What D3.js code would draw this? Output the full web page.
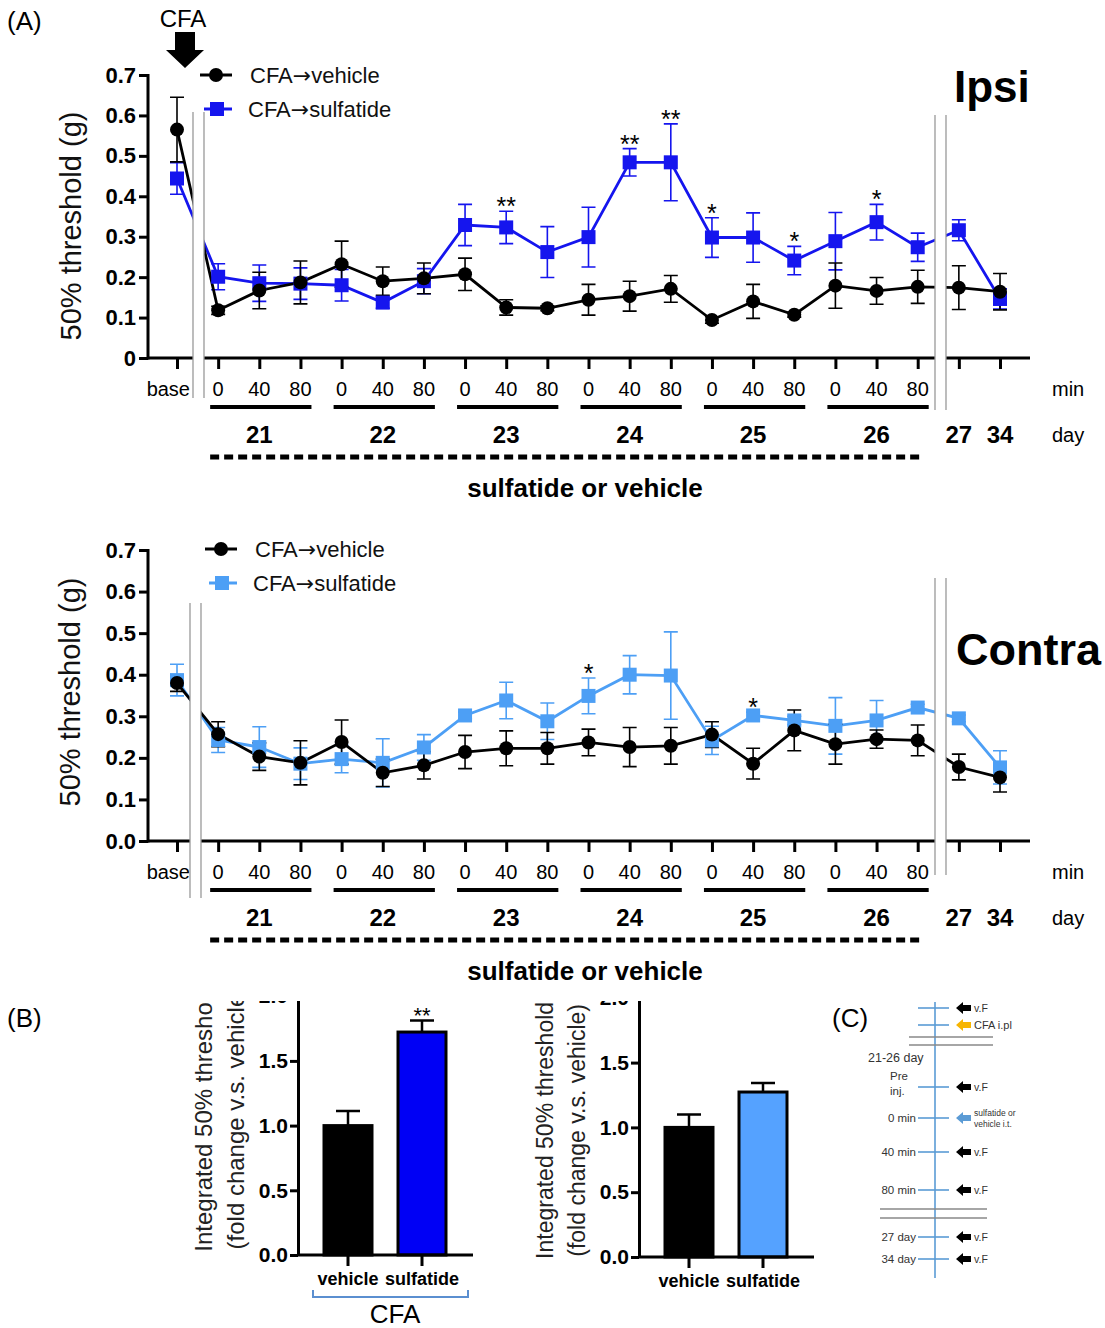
<!DOCTYPE html>
<meta charset="utf-8" />
<style>
  body { margin: 0; background: #fff; }
  svg { display: block; font-family: "Liberation Sans", Arial, sans-serif; }
</style>
<svg width="1105" height="1328"></svg>
<script src="https://d3js.org/d3.v7.min.js"></script>
<script>
  /* global d3 */

  // ---- data (A) : 50% threshold (g), mean and SEM, 21 time points ----
  var timeLabels = ["base", "0", "40", "80", "0", "40", "80", "0", "40", "80", "0", "40", "80",
    "0", "40", "80", "0", "40", "80", "", ""];
  var dayLabels = ["21", "22", "23", "24", "25", "26"];
  var lateDays = ["27", "34"];

  var ipsiVehicle = [0.565, 0.118, 0.167, 0.187, 0.232, 0.19, 0.197, 0.207, 0.125, 0.123, 0.144,
    0.153, 0.171, 0.094, 0.14, 0.107, 0.179, 0.166, 0.176, 0.174, 0.164];
  var ipsiVehicleErr = [0.08, 0.01, 0.045, 0.053, 0.057, 0.035, 0.038, 0.04, 0.019, 0.006, 0.038,
    0.037, 0.033, 0.008, 0.042, 0.006, 0.056, 0.033, 0.041, 0.054, 0.045];
  var ipsiSulf = [0.444, 0.201, 0.185, 0.184, 0.18, 0.137, 0.19, 0.329, 0.323, 0.262, 0.299,
    0.484, 0.484, 0.298, 0.298, 0.241, 0.289, 0.336, 0.274, 0.316, 0.146];
  var ipsiSulfErr = [0.039, 0.032, 0.045, 0.039, 0.039, 0.014, 0.031, 0.051, 0.04, 0.063, 0.074,
    0.034, 0.095, 0.049, 0.061, 0.035, 0.071, 0.044, 0.035, 0.026, 0.025];
  var ipsiStars = ["", "", "", "", "", "", "", "", "**", "", "", "**", "**", "*", "", "*", "", "*", "", "", ""];

  var contraVehicle = [0.38, 0.257, 0.203, 0.188, 0.238, 0.164, 0.182, 0.214, 0.223, 0.223, 0.237,
    0.226, 0.229, 0.256, 0.186, 0.266, 0.233, 0.245, 0.242, 0.178, 0.153];
  var contraVehicleErr = [0.02, 0.03, 0.033, 0.053, 0.053, 0.033, 0.033, 0.04, 0.042, 0.038, 0.032,
    0.047, 0.044, 0.031, 0.037, 0.049, 0.048, 0.022, 0.037, 0.031, 0.035];
  var contraSulf = [0.387, 0.243, 0.226, 0.186, 0.197, 0.188, 0.225, 0.302, 0.338, 0.288, 0.349,
    0.4, 0.398, 0.242, 0.302, 0.29, 0.277, 0.29, 0.321, 0.295, 0.177];
  var contraSulfErr = [0.038, 0.03, 0.049, 0.038, 0.033, 0.058, 0.031, 0.008, 0.044, 0.044, 0.043,
    0.046, 0.105, 0.034, 0.008, 0.01, 0.068, 0.048, 0.008, 0.008, 0.04];
  var contraStars = ["", "", "", "", "", "", "", "", "", "", "*", "", "", "", "*", "", "", "", "", "", ""];

  var seriesNames = ["CFA\u2192vehicle", "CFA\u2192sulfatide"];

  // ---- data (B) : integrated threshold, fold change ----
  var barGroups = ["vehicle", "sulfatide"];
  var ipsiBars = [1.0, 1.723];
  var ipsiBarsErr = [0.113, 0.09];
  var contraBars = [1.0, 1.273];
  var contraBarsErr = [0.099, 0.07];

  // ---- (C) timeline ----
  var cSteps = [
    { left: [], arrow: "black", text: ["v.F"] },
    { left: [], arrow: "yellow", text: ["CFA i.pl"] },
    { left: ["Pre", "inj."], arrow: "black", text: ["v.F"] },
    { left: ["0 min"], arrow: "blue", text: ["sulfatide or", "vehicle i.t."] },
    { left: ["40 min"], arrow: "black", text: ["v.F"] },
    { left: ["80 min"], arrow: "black", text: ["v.F"] },
    { left: ["27 day"], arrow: "black", text: ["v.F"] },
    { left: ["34 day"], arrow: "black", text: ["v.F"] }
  ];
  var cStepY = [1008, 1025, 1087, 1118, 1152, 1190, 1237, 1259];

  var svg = d3.select("svg");
  var x = d3.scaleLinear().domain([0, 20]).range([177, 1000]);

  // legend label with a long arrow glyph
  function arrowText(sel, s) {
    var parts = s.split("\u2192");
    sel.append("tspan").text(parts[0]);
    sel.append("tspan").attr("font-family", "DejaVu Sans, sans-serif").text("\u2192");
    sel.append("tspan").text(parts[1]);
  }

  function drawCourse(o) {
    var g = svg.append("g");
    var y = d3.scaleLinear().domain([0, 0.7]).range([o.bottom, o.top]);

    // y axis
    var ya = g.append("g").attr("transform", "translate(148,0)")
      .call(d3.axisLeft(y).tickValues(d3.range(0, 0.71, 0.1)).tickSize(9).tickSizeOuter(0)
        .tickFormat(function (d) { return d < 0.01 ? o.zero : d3.format(".1f")(d); }));
    ya.select(".domain").attr("stroke-width", 3).attr("d", "M0," + (o.top - 1) + "V" + (o.bottom + 1.5));
    ya.selectAll(".tick line").attr("stroke-width", 3);
    ya.selectAll(".tick text").attr("font-size", 22).attr("font-weight", "bold")
      .attr("font-family", "Liberation Sans, Arial, sans-serif").attr("fill", "#000").attr("x", -12);

    // x axis
    g.append("line").attr("x1", 148).attr("x2", 1030).attr("y1", o.bottom).attr("y2", o.bottom)
      .attr("stroke", "#000").attr("stroke-width", 3);
    var xa = g.append("g").attr("transform", "translate(0," + o.bottom + ")")
      .call(d3.axisBottom(x).tickValues(d3.range(21)).tickSize(11).tickFormat(""));
    xa.select(".domain").remove();
    xa.selectAll(".tick line").attr("stroke-width", 3);

    // time labels
    g.selectAll(".tl").data(timeLabels).enter().append("text")
      .attr("x", function (d, i) { return x(i) + (i === 0 ? 13 : 0); })
      .attr("y", o.bottom + 38)
      .attr("text-anchor", function (d, i) { return i === 0 ? "end" : "middle"; })
      .attr("font-size", 20).text(function (d) { return d; });
    g.append("text").attr("x", 1052).attr("y", o.bottom + 38).attr("font-size", 20).text("min");
    g.append("text").attr("x", 1052).attr("y", o.bottom + 84).attr("font-size", 20).text("day");

    dayLabels.forEach(function (d, k) {
      var a = x(1 + 3 * k), b = x(3 + 3 * k);
      g.append("line").attr("x1", a - 8).attr("x2", b + 11).attr("y1", o.bottom + 49).attr("y2", o.bottom + 49)
        .attr("stroke", "#000").attr("stroke-width", 4);
      g.append("text").attr("x", x(2 + 3 * k)).attr("y", o.bottom + 85).attr("text-anchor", "middle")
        .attr("font-size", 24).attr("font-weight", "bold").text(d);
    });
    lateDays.forEach(function (d, k) {
      g.append("text").attr("x", x(19 + k)).attr("y", o.bottom + 85).attr("text-anchor", "middle")
        .attr("font-size", 24).attr("font-weight", "bold").text(d);
    });
    g.append("line").attr("x1", x(1) - 8).attr("x2", x(18) + 5).attr("y1", o.bottom + 99).attr("y2", o.bottom + 99)
      .attr("stroke", "#000").attr("stroke-width", 5).attr("stroke-dasharray", "9,5");
    g.append("text").attr("x", 585).attr("y", o.bottom + 139).attr("text-anchor", "middle")
      .attr("font-size", 26).attr("font-weight", "bold").text("sulfatide or vehicle");

    // y title
    g.append("text").attr("transform", "translate(" + o.titleX + "," + o.titleY + ") rotate(-90)")
      .attr("text-anchor", "middle").attr("font-size", 29).attr("fill", "#111").text("50% threshold (g)");

    // series: sulfatide first, vehicle on top
    var series = [
      { v: o.sulf, e: o.sulfErr, color: o.color, shape: "square" },
      { v: o.vehicle, e: o.vehicleErr, color: "#000", shape: "circle" }
    ];
    var line = d3.line().x(function (d, i) { return x(i); }).y(function (d) { return y(d); });
    series.forEach(function (s) {
      var sg = g.append("g");
      sg.selectAll(".eb").data(s.v).enter().append("path")
        .attr("d", function (d, i) {
          var cx = x(i), t = y(d + s.e[i]), b = y(d - s.e[i]);
          return "M" + cx + "," + t + "V" + b + "M" + (cx - 7) + "," + t + "h14M" + (cx - 7) + "," + b + "h14";
        })
        .attr("stroke", s.color).attr("stroke-width", 1.6).attr("fill", "none");
      sg.append("path").datum(s.v).attr("d", line).attr("fill", "none")
        .attr("stroke", s.color).attr("stroke-width", 2.8);
    });
    series.forEach(function (s) {
      if (s.shape === "circle") {
        g.selectAll(".mc").data(s.v).enter().append("circle")
          .attr("cx", function (d, i) { return x(i); }).attr("cy", function (d) { return y(d); })
          .attr("r", 7).attr("fill", s.color);
      } else {
        g.selectAll(".ms").data(s.v).enter().append("rect")
          .attr("x", function (d, i) { return x(i) - 7; }).attr("y", function (d) { return y(d) - 7; })
          .attr("width", 14).attr("height", 14).attr("fill", s.color);
      }
    });

    // significance
    g.selectAll(".st").data(o.stars).enter().append("text")
      .attr("x", function (d, i) { return x(i); })
      .attr("y", function (d, i) { return y(o.sulf[i] + o.sulfErr[i]) + 4; })
      .attr("text-anchor", "middle").attr("font-size", 25).text(function (d) { return d; });

    // axis breaks
    o.breaks.forEach(function (b) {
      g.append("rect").attr("x", b.x).attr("y", b.y1).attr("width", 11).attr("height", b.y2 - b.y1).attr("fill", "#fff");
      [b.x, b.x + 11].forEach(function (bx) {
        g.append("line").attr("x1", bx).attr("x2", bx).attr("y1", b.y1).attr("y2", b.y2)
          .attr("stroke", "#999").attr("stroke-width", 1.3);
      });
    });

    // legend
    var lg = g.append("g").attr("transform", "translate(" + o.legendX + "," + o.legendY + ")");
    lg.append("line").attr("x1", 0).attr("x2", 32).attr("stroke", "#000").attr("stroke-width", 3);
    lg.append("circle").attr("cx", 16).attr("r", 7).attr("fill", "#000");
    lg.append("text").attr("x", 50).attr("y", 8).attr("font-size", 22).attr("fill", "#111")
      .call(arrowText, seriesNames[0]);
    lg.append("line").attr("x1", 4).attr("x2", 32).attr("y1", 34).attr("y2", 34).attr("stroke", o.color).attr("stroke-width", 3);
    lg.append("rect").attr("x", 10).attr("y", 27).attr("width", 14).attr("height", 14).attr("fill", o.color);
    lg.append("text").attr("x", 48).attr("y", 42).attr("font-size", 22).attr("fill", "#111")
      .call(arrowText, seriesNames[1]);

    g.append("text").attr("x", o.nameX).attr("y", o.nameY).attr("font-size", o.nameSize)
      .attr("font-weight", "bold").text(o.name);
  }

  drawCourse({
    top: 75, bottom: 358, zero: "0", color: "#1515ee",
    vehicle: ipsiVehicle, vehicleErr: ipsiVehicleErr, sulf: ipsiSulf, sulfErr: ipsiSulfErr, stars: ipsiStars,
    titleX: 81, titleY: 226, legendX: 200, legendY: 75,
    breaks: [{ x: 193, y1: 112, y2: 398 }, { x: 935, y1: 115, y2: 410 }],
    name: "Ipsi", nameX: 954, nameY: 102, nameSize: 44
  });
  drawCourse({
    top: 550, bottom: 841, zero: "0.0", color: "#4d9ff5",
    vehicle: contraVehicle, vehicleErr: contraVehicleErr, sulf: contraSulf, sulfErr: contraSulfErr, stars: contraStars,
    titleX: 80, titleY: 692, legendX: 205, legendY: 549,
    breaks: [{ x: 190, y1: 603, y2: 898 }, { x: 935, y1: 578, y2: 875 }],
    name: "Contra", nameX: 956, nameY: 665, nameSize: 45
  });

  // top CFA arrow
  svg.append("text").attr("x", 183).attr("y", 27).attr("text-anchor", "middle").attr("font-size", 24).text("CFA");
  svg.append("path").attr("d", "M175,32H195V50H204L185,68L166,50H175Z").attr("fill", "#000");

  // panel letters
  svg.append("text").attr("x", 7).attr("y", 30).attr("font-size", 26).text("(A)");
  svg.append("text").attr("x", 7).attr("y", 1027).attr("font-size", 26).text("(B)");
  svg.append("text").attr("x", 832).attr("y", 1027).attr("font-size", 26).text("(C)");

  // ---- (B) bar charts ----
  svg.append("defs").append("clipPath").attr("id", "clipB")
    .append("rect").attr("x", 0).attr("y", 1001).attr("width", 1105).attr("height", 327);

  function drawBars(o) {
    var g = svg.append("g").attr("clip-path", "url(#clipB)");
    var y = d3.scaleLinear().domain([0, 2]).range([o.bottom, o.bottom - 2 * o.unit]);
    var xb = d3.scalePoint().domain(barGroups).range([o.ax + 50, o.ax + 124]);

    g.selectAll(".bar").data(o.vals).enter().append("rect")
      .attr("x", function (d, i) { return xb(barGroups[i]) - 24; })
      .attr("y", function (d) { return y(d); })
      .attr("width", 48).attr("height", function (d) { return o.bottom - y(d); })
      .attr("fill", function (d, i) { return i === 0 ? "#000" : o.color; })
      .attr("stroke", "#000").attr("stroke-width", 3);
    g.selectAll(".err").data(o.vals).enter().append("path")
      .attr("d", function (d, i) {
        var cx = xb(barGroups[i]), t = y(d + o.errs[i]);
        return "M" + cx + "," + y(d) + "V" + t + "M" + (cx - 12) + "," + t + "h24";
      })
      .attr("stroke", "#000").attr("stroke-width", 2.5).attr("fill", "none");

    var ya = g.append("g").attr("transform", "translate(" + o.ax + ",0)")
      .call(d3.axisLeft(y).tickValues([0, 0.5, 1, 1.5, 2]).tickSize(8).tickSizeOuter(0).tickFormat(d3.format(".1f")));
    ya.select(".domain").attr("stroke-width", 3);
    ya.selectAll(".tick line").attr("stroke-width", 3);
    ya.selectAll(".tick text").attr("font-size", 21).attr("font-weight", "bold").attr("fill", "#000")
      .attr("font-family", "Liberation Sans, Arial, sans-serif").attr("x", -10);

    g.append("line").attr("x1", o.ax).attr("x2", o.ax + 175).attr("y1", o.bottom).attr("y2", o.bottom)
      .attr("stroke", "#000").attr("stroke-width", 3);
    barGroups.forEach(function (d) {
      g.append("line").attr("x1", xb(d)).attr("x2", xb(d)).attr("y1", o.bottom).attr("y2", o.bottom + 11)
        .attr("stroke", "#000").attr("stroke-width", 3);
      g.append("text").attr("x", xb(d)).attr("y", o.bottom + 30).attr("text-anchor", "middle")
        .attr("font-size", 18).attr("font-weight", "bold").text(d);
    });

    if (o.star) {
      g.append("text").attr("x", xb(barGroups[1])).attr("y", y(o.vals[1] + o.errs[1]) + 3)
        .attr("text-anchor", "middle").attr("font-size", 22).text(o.star);
    }

    var mid = (o.bottom + y(2)) / 2 + o.titleShift;
    g.append("text").attr("transform", "translate(" + (o.ax - 86) + "," + mid + ") rotate(-90)")
      .attr("text-anchor", "middle").attr("font-size", o.titleSize).attr("fill", "#222").text("Integrated 50% threshold");
    g.append("text").attr("transform", "translate(" + (o.ax - 54) + "," + mid + ") rotate(-90)")
      .attr("text-anchor", "middle").attr("font-size", o.titleSize).attr("fill", "#222").text("(fold change v.s. vehicle)");
  }

  drawBars({ ax: 298, bottom: 1255, unit: 129.4, vals: ipsiBars, errs: ipsiBarsErr, color: "#0000f5", star: "**",
    titleSize: 24, titleShift: -8 });
  drawBars({ ax: 639, bottom: 1257, unit: 129.6, vals: contraBars, errs: contraBarsErr, color: "#55a2ff", star: "",
    titleSize: 23, titleShift: 3 });

  svg.append("path").attr("d", "M313,1290V1297H468V1290").attr("fill", "none")
    .attr("stroke", "#5b8fd0").attr("stroke-width", 2);
  svg.append("text").attr("x", 395).attr("y", 1323).attr("text-anchor", "middle").attr("font-size", 26).text("CFA");

  // ---- (C) schematic ----
  var cg = svg.append("g").attr("font-size", 11.5).attr("fill", "#333");
  cg.append("line").attr("x1", 935).attr("x2", 935).attr("y1", 1002).attr("y2", 1278)
    .attr("stroke", "#5b9bd5").attr("stroke-width", 1.6);
  [[909, 993, 1037], [909, 993, 1045], [880, 987, 1209], [880, 987, 1218]].forEach(function (l) {
    cg.append("line").attr("x1", l[0]).attr("x2", l[1]).attr("y1", l[2]).attr("y2", l[2])
      .attr("stroke", "#888").attr("stroke-width", 1.3);
  });
  cg.append("text").attr("x", 868).attr("y", 1062).attr("font-size", 12.5).text("21-26 day");
  var arrowColor = { black: "#000", yellow: "#f7b500", blue: "#5b9bd5" };
  cSteps.forEach(function (s, i) {
    var sy = cStepY[i];
    cg.append("line").attr("x1", 918).attr("x2", 949).attr("y1", sy).attr("y2", sy)
      .attr("stroke", "#5b9bd5").attr("stroke-width", 1.6);
    cg.append("path").attr("d", "M956," + sy + "l7,-6v3h8v6h-8v3Z").attr("fill", arrowColor[s.arrow]);
    if (s.text.length === 1) {
      cg.append("text").attr("x", 974).attr("y", sy + 4).attr("font-size", s.arrow === "yellow" ? 11 : 10.5).text(s.text[0]);
    } else {
      s.text.forEach(function (t, k) {
        cg.append("text").attr("x", 974).attr("y", sy - 2 + k * 11).attr("font-size", 8.5).text(t);
      });
    }
    if (s.left.length === 1) {
      cg.append("text").attr("x", 916).attr("y", sy + 4).attr("text-anchor", "end").text(s.left[0]);
    } else if (s.left.length === 2) {
      cg.append("text").attr("x", 890).attr("y", sy - 7).text(s.left[0]);
      cg.append("text").attr("x", 890).attr("y", sy + 8).text(s.left[1]);
    }
  });
</script>
